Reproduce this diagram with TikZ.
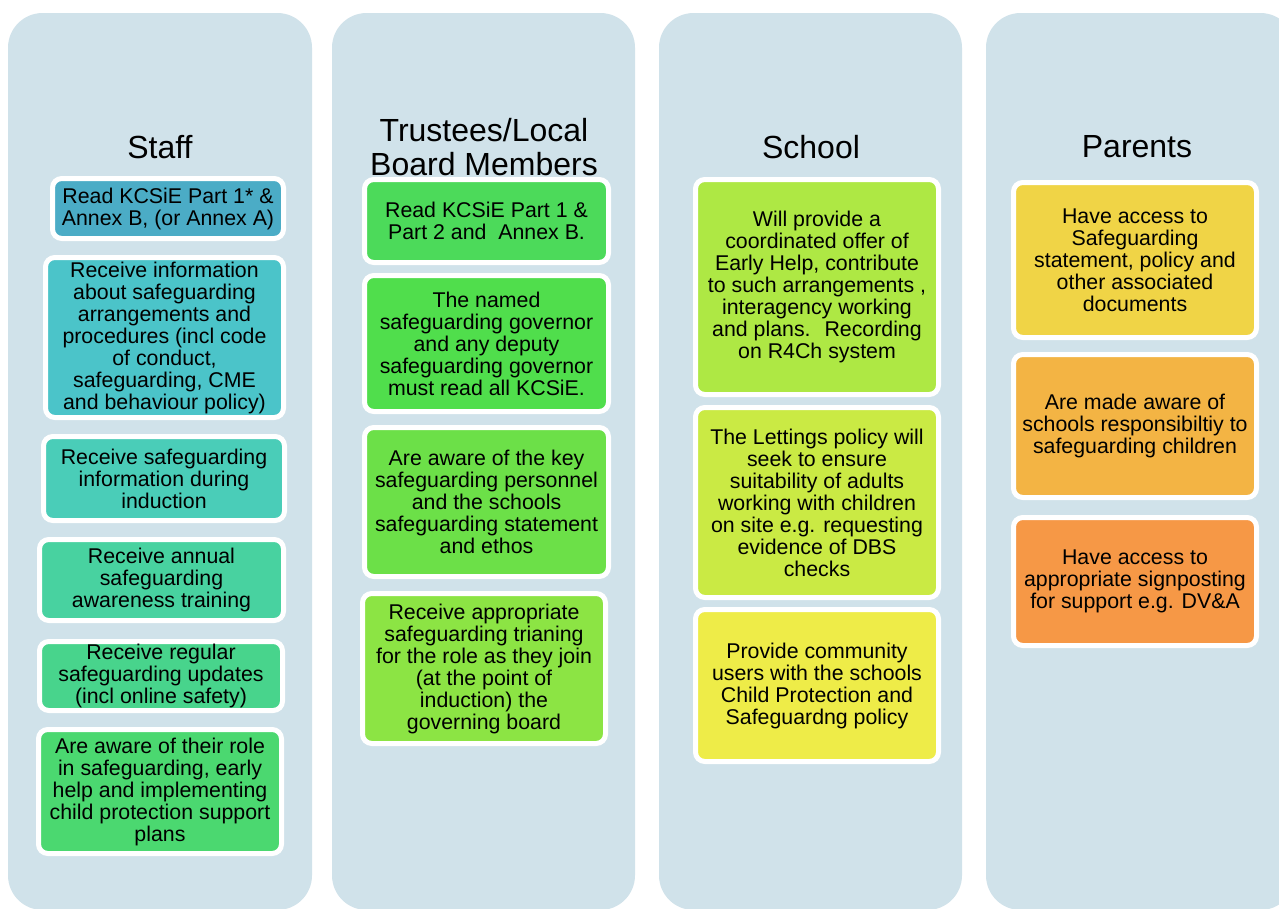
\documentclass[tikz,border=0pt]{standalone}
\usepackage{fontspec}
\setmainfont{Liberation Sans}

\definecolor{panelblue}{RGB}{208,226,234}
\definecolor{staffA}{RGB}{75,172,198}
\definecolor{staffB}{RGB}{75,196,201}
\definecolor{staffC}{RGB}{74,205,184}
\definecolor{staffD}{RGB}{72,210,160}
\definecolor{staffE}{RGB}{72,212,140}
\definecolor{staffF}{RGB}{75,216,112}
\definecolor{boardA}{RGB}{76,218,90}
\definecolor{boardB}{RGB}{80,222,76}
\definecolor{boardC}{RGB}{108,224,72}
\definecolor{boardD}{RGB}{140,228,68}
\definecolor{schoolA}{RGB}{174,232,68}
\definecolor{schoolB}{RGB}{202,234,68}
\definecolor{schoolC}{RGB}{238,236,72}
\definecolor{parentsA}{RGB}{240,212,70}
\definecolor{parentsB}{RGB}{243,180,68}
\definecolor{parentsC}{RGB}{246,152,70}

\tikzset{
  panel/.style={fill=panelblue, rounded corners=26pt},
  heading/.style={align=center, font=\fontsize{24}{25}\selectfont},
  item/.style={draw=white, line width=3.75pt, rounded corners=7pt,
    align=center, inner sep=0pt, font=\fontsize{16}{16.5}\selectfont},
  size/.style 2 args={minimum width={(#1-5)*0.75pt}, minimum height={(#2-5)*0.75pt}},
}

\begin{document}
\begin{tikzpicture}[x=0.75pt, y=-0.75pt]
    \useasboundingbox (0,0) rectangle (1279,908);
    \fill[white] (0,0) rectangle (1279,908);

    % columns
    \begin{scope}
      \clip (0,0) rectangle (1279,908);
      \fill[panel] (8,13) rectangle (312,910);
      \fill[panel] (332,13) rectangle (635,910);
      \fill[panel] (659,13) rectangle (962,910);
      \fill[panel] (986,13) rectangle (1295,910);
    \end{scope}

    \node[heading] (staff) at (160,147) {Staff};
    \node[heading] (board) at (484,147) {Trustees/Local\\Board Members};
    \node[heading] (school) at (811,147) {School};
    \node[heading] (parents) at (1137,147) {Parents};

    % staff
    \node[item, fill=staffA, size={236}{65}] (staff1) at (168,208.5)
      {Read KCSiE Part 1* \&\\Annex B, (or Annex A)};
    \node[item, fill=staffB, size={243}{165}] (staff2) at (164.5,337.5)
      {Receive information\\about safeguarding\\arrangements and\\procedures (incl code\\of conduct,\\safeguarding, CME\\and behaviour policy)};
    \node[item, fill=staffC, size={246}{89}] (staff3) at (164,478.5)
      {Receive safeguarding\\information during\\induction};
    \node[item, fill=staffD, size={249}{86}] (staff4) at (161.5,580)
      {Receive annual\\safeguarding\\awareness training};
    \node[item, fill=staffE, size={248}{74}] (staff5) at (161,676)
      {Receive regular\\safeguarding updates\\(incl online safety)};
    \node[item, fill=staffF, size={248}{129}] (staff6) at (160,791.5)
      {Are aware of their role\\in safeguarding, early\\help and implementing\\child protection support\\plans};

    % trustees / local board
    \node[item, fill=boardA, size={249}{88}] (board1) at (486.5,221)
      {Read KCSiE Part 1 \&\\Part 2 and~ Annex B.};
    \node[item, fill=boardB, size={249}{141}] (board2) at (486.5,343.5)
      {The named\\safeguarding governor\\and any deputy\\safeguarding governor\\must read all KCSiE.};
    \node[item, fill=boardC, size={249}{154}] (board3) at (486.5,502)
      {Are aware of the key\\safeguarding personnel\\and the schools\\safeguarding statement\\and ethos};
    \node[item, fill=boardD, size={248}{155}] (board4) at (484,668.5)
      {Receive appropriate\\safeguarding trianing\\for the role as they join\\(at the point of\\induction) the\\governing board};

    % school
    \node[item, fill=schoolA, size={248}{220}] (school1) at (817,287)
      {Will provide a\\coordinated offer of\\Early Help, contribute\\to such arrangements ,\\interagency working\\and plans.~ Recording\\on R4Ch system};
    \node[item, fill=schoolB, size={248}{195}] (school2) at (817,502.5)
      {The Lettings policy will\\seek to ensure\\suitability of adults\\working with children\\on site e.g. requesting\\evidence of DBS\\checks};
    \node[item, fill=schoolC, size={248}{157}] (school3) at (817,685.5)
      {Provide community\\users with the schools\\Child Protection and\\Safeguardng policy};

    % parents
    \node[item, fill=parentsA, size={248}{160}] (parents1) at (1135,260)
      {Have access to\\Safeguarding\\statement, policy and\\other associated\\documents};
    \node[item, fill=parentsB, size={248}{148}] (parents2) at (1135,426)
      {Are made aware of\\schools responsibiltiy to\\safeguarding children};
    \node[item, fill=parentsC, size={248}{133}] (parents3) at (1135,581.5)
      {Have access to\\appropriate signposting\\for support e.g. DV\&A};

  \end{tikzpicture}
\end{document}
